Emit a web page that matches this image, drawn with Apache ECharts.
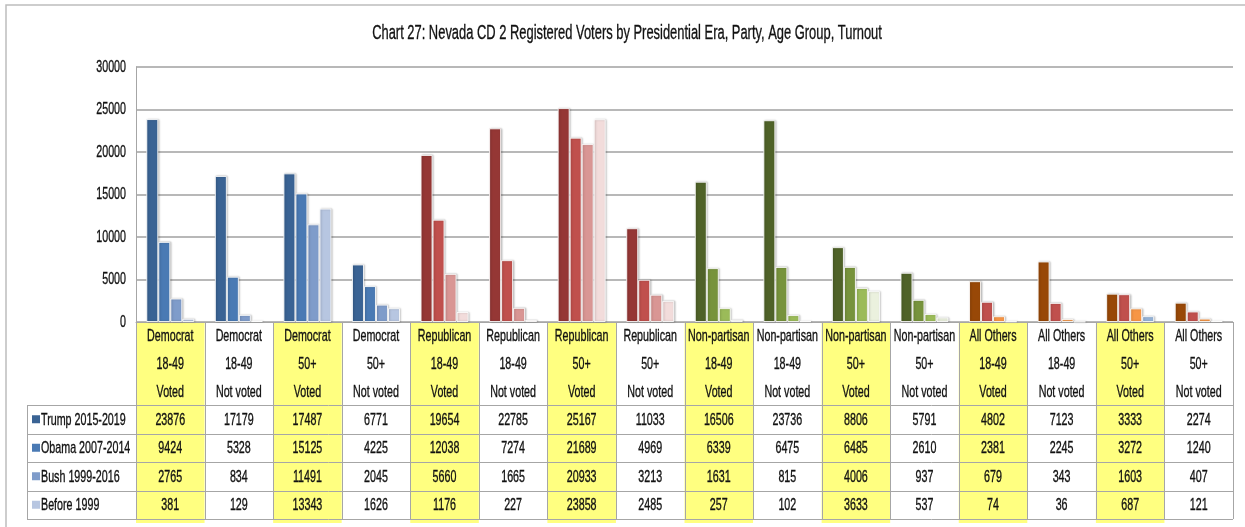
<!DOCTYPE html>
<html>
<head>
<meta charset="utf-8">
<script src="https://cdn.jsdelivr.net/npm/echarts@6/dist/echarts.min.js"></script>
<style>
  html, body { margin: 0; padding: 0; background: #fff; }
  #chart { width: 1245px; height: 527px; }
</style>
</head>
<body>
<div id="chart"></div>
<script>
var FONT = "'Liberation Sans', Arial, sans-serif";
var SQUEEZE = 0.63;   // the reference text is narrow and tall

// categories (party / age / turnout)
var party = ['Democrat', 'Democrat', 'Democrat', 'Democrat',
    'Republican', 'Republican', 'Republican', 'Republican',
    'Non-partisan', 'Non-partisan', 'Non-partisan', 'Non-partisan',
    'All Others', 'All Others', 'All Others', 'All Others'];
var ageGroup = ['18-49', '18-49', '50+', '50+', '18-49', '18-49', '50+', '50+',
    '18-49', '18-49', '50+', '50+', '18-49', '18-49', '50+', '50+'];
var turnout = ['Voted', 'Not voted', 'Voted', 'Not voted', 'Voted', 'Not voted', 'Voted', 'Not voted',
    'Voted', 'Not voted', 'Voted', 'Not voted', 'Voted', 'Not voted', 'Voted', 'Not voted'];

// series
var seriesNames = ['Trump 2015-2019', 'Obama 2007-2014', 'Bush 1999-2016', 'Before 1999'];
var trump  = [23876, 17179, 17487, 6771, 19654, 22785, 25167, 11033, 16506, 23736, 8806, 5791, 4802, 7123, 3333, 2274];
var obama  = [9424, 5328, 15125, 4225, 12038, 7274, 21689, 4969, 6339, 6475, 6485, 2610, 2381, 2245, 3272, 1240];
var bush   = [2765, 834, 11491, 2045, 5660, 1665, 20933, 3213, 1631, 815, 4006, 937, 679, 343, 1603, 407];
var before = [381, 129, 13343, 1626, 1176, 227, 23858, 2485, 257, 102, 3633, 537, 74, 36, 687, 121];

// y axis ticks
var yTicks = [0, 5000, 10000, 15000, 20000, 25000, 30000];

// colours per party, one shade per era
var palette = {
    'Democrat':     ['#3a6394', '#4a7ab4', '#7f9cca', '#b7c6e1'],
    'Republican':   ['#953735', '#c0504d', '#d99694', '#f2dcdb'],
    'Non-partisan': ['#4f6228', '#77933c', '#9bbb59', '#ebf1de'],
    'All Others':   ['#984807', '#c0504d', '#f79646', '#95b3d7']
};
var legendColors = palette['Democrat'];

var allValues = [trump, obama, bush, before];
var categories = party.map(function (p, i) { return p + ' ' + ageGroup[i] + ' ' + turnout[i]; });

var chart = echarts.init(document.getElementById('chart'));

var series = allValues.map(function (vals, s) {
    return {
        name: seriesNames[s],
        type: 'bar',
        barWidth: 12,
        barGap: '0%',
        data: vals.map(function (v, i) {
            return { value: v, itemStyle: { color: palette[party[i]][s] } };
        }),
        itemStyle: {
            borderColor: 'rgba(255,255,255,0.85)',
            borderWidth: 1,
            shadowColor: 'rgba(0,0,0,0.25)',
            shadowBlur: 2,
            shadowOffsetX: 1,
            shadowOffsetY: 0
        }
    };
});

chart.setOption({
    animation: false,
    grid: { left: 136, right: 12, top: 67, bottom: 205, containLabel: false },
    xAxis: {
        type: 'category',
        data: categories,
        axisLine: { show: true, lineStyle: { color: '#a6a6a6', width: 1 } },
        axisTick: { show: false },
        axisLabel: { show: false }
    },
    yAxis: {
        type: 'value',
        min: yTicks[0],
        max: yTicks[yTicks.length - 1],
        interval: 5000,
        axisLine: { show: true, lineStyle: { color: '#a6a6a6' } },
        axisTick: { show: false },
        splitLine: { lineStyle: { color: '#a0a0a0', width: 1.5 } },
        axisLabel: { show: false }
    },
    series: series
});

// narrow text helper
function txt(x, y, text, align, size) {
    return {
        type: 'text', silent: true,
        x: x, y: y, scaleX: SQUEEZE, scaleY: 1,
        style: {
            x: 0, y: 0, text: text,
            align: align, verticalAlign: 'middle',
            font: size + 'px ' + FONT, fill: '#111',
            stroke: '#111', lineWidth: 0.35,
            lineHeight: 28
        }
    };
}

// data table under the plot, placed from the category axis
var x0 = chart.convertToPixel({ xAxisIndex: 0 }, 0);
var x1 = chart.convertToPixel({ xAxisIndex: 0 }, 1);
var colW = x1 - x0;
var plotLeft = x0 - colW / 2;
var plotRight = plotLeft + colW * party.length;
var axisY = chart.convertToPixel({ yAxisIndex: 0 }, 0);
var rowY = [405, 433.5, 462, 490.5, 519];
var tableLeft = 27;
var gridColor = '#a6a6a6';
var elements = [];

// outer chart border
elements.push({
    type: 'rect', silent: true,
    shape: { x: 6, y: 5, width: 1260, height: 560 },
    style: { fill: null, stroke: '#bdbdbd', lineWidth: 1.5 }
});

// title
elements.push(txt(627, 33,
    'Chart 27: Nevada CD 2 Registered Voters by Presidential Era, Party, Age Group, Turnout',
    'center', 20.5));

// y axis labels
yTicks.forEach(function (t) {
    elements.push(txt(126, chart.convertToPixel({ yAxisIndex: 0 }, t), String(t), 'right', 17));
});

party.forEach(function (p, i) {
    var left = plotLeft + colW * i;
    var cx = left + colW / 2;
    if (turnout[i] === 'Voted') {
        elements.push({
            type: 'rect', silent: true, z: -1,
            shape: { x: left, y: axisY + 1, width: colW, height: 522 - axisY },
            style: { fill: '#ffff80' }
        });
    }
    elements.push(txt(cx, axisY + 42, p + '\n' + ageGroup[i] + '\n' + turnout[i], 'center', 17));
    allValues.forEach(function (vals, s) {
        elements.push(txt(cx, (rowY[s] + rowY[s + 1]) / 2 + 1, String(vals[i]), 'center', 17));
    });
});

// vertical table lines
for (var k = 0; k <= party.length; k++) {
    var vx = Math.round(plotLeft + colW * k) + 0.5;
    elements.push({
        type: 'line', silent: true,
        shape: { x1: vx, y1: axisY, x2: vx, y2: rowY[4] },
        style: { stroke: gridColor, lineWidth: 1 }
    });
}
elements.push({
    type: 'line', silent: true,
    shape: { x1: tableLeft + 0.5, y1: rowY[0], x2: tableLeft + 0.5, y2: rowY[4] },
    style: { stroke: gridColor, lineWidth: 1 }
});

// horizontal table lines
rowY.forEach(function (y) {
    elements.push({
        type: 'line', silent: true,
        shape: { x1: tableLeft, y1: Math.round(y) + 0.5, x2: plotRight, y2: Math.round(y) + 0.5 },
        style: { stroke: gridColor, lineWidth: 1 }
    });
});

// legend keys in the first table column
seriesNames.forEach(function (name, s) {
    var cy = (rowY[s] + rowY[s + 1]) / 2;
    elements.push({
        type: 'rect', silent: true,
        shape: { x: 32, y: cy - 4, width: 8, height: 8 },
        style: { fill: legendColors[s] }
    });
    elements.push(txt(41, cy + 1, name, 'left', 17));
});

chart.setOption({ graphic: elements });
</script>
</body>
</html>
